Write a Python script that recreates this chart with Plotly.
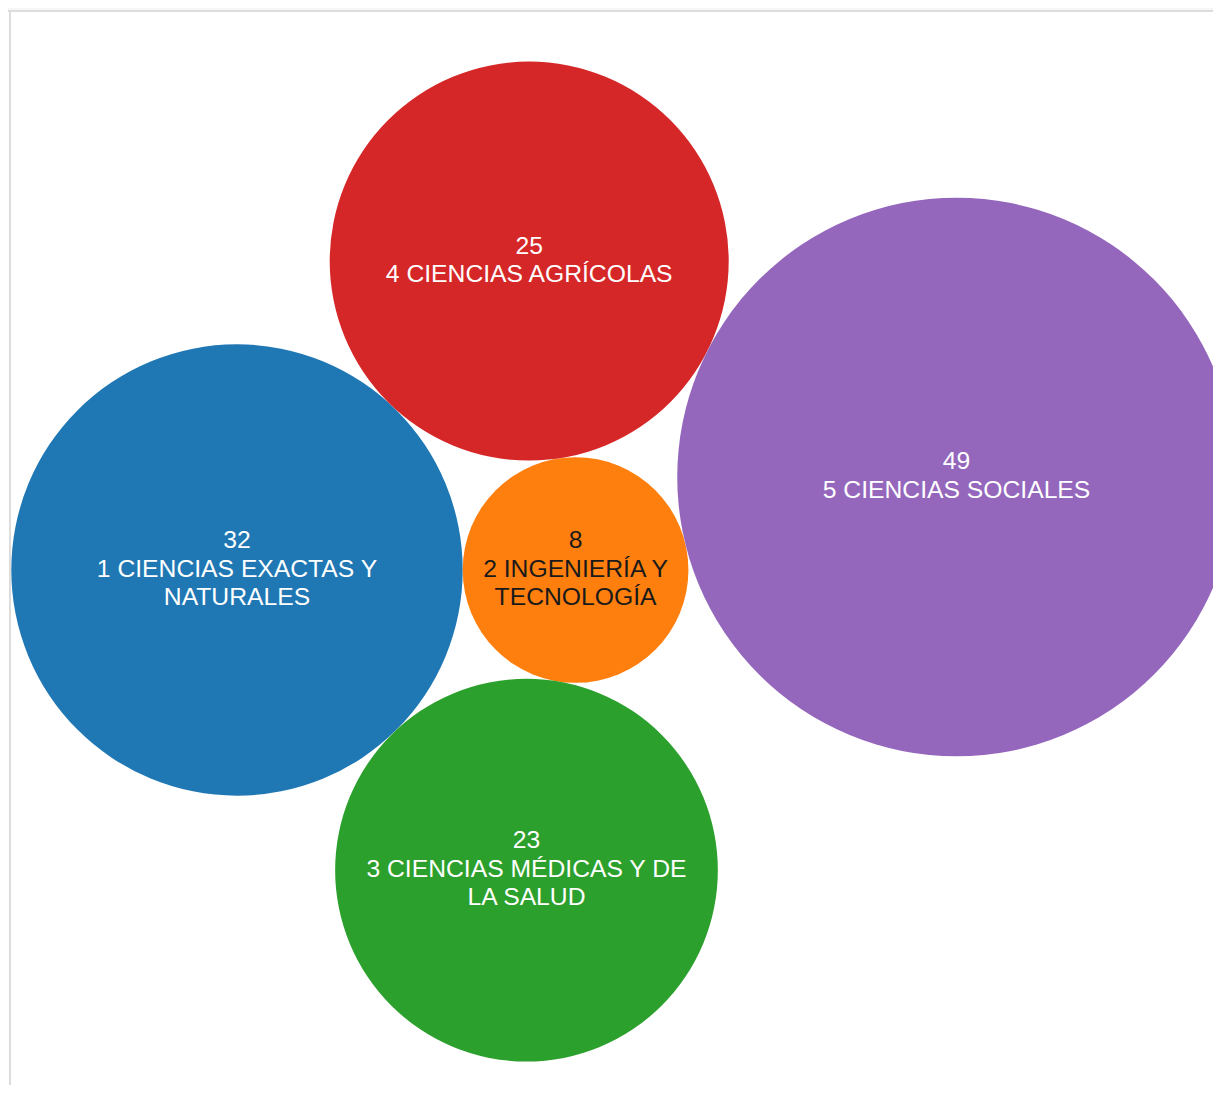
import math
import plotly.graph_objects as go

# ---- data ----
codes = ["1", "2", "3", "4", "5"]
names = ["CIENCIAS EXACTAS Y<br>NATURALES", "INGENIERÍA Y<br>TECNOLOGÍA",
         "CIENCIAS MÉDICAS Y DE<br>LA SALUD", "CIENCIAS AGRÍCOLAS", "CIENCIAS SOCIALES"]
values = [32, 8, 23, 25, 49]
colors = ["#1f77b4", "#ff7f0e", "#2ca02c", "#d62728", "#9467bd"]
text_colors = ["#ffffff", "#1a1a1a", "#ffffff", "#ffffff", "#ffffff"]

# ---- packing: bubble area proportional to value, circles placed tangent ----
# first two bubbles side by side; each further bubble touches two placed ones
# (new index, touching i, touching j, side of the line i->j)
packing = [(2, 0, 1, +1), (3, 0, 1, -1), (4, 3, 1, -1)]

rr = [math.sqrt(v) for v in values]
cx = [0.0] * len(values)
cy = [0.0] * len(values)
cx[1] = rr[0] + rr[1]


def tangent(i, j, r, side):
    dx, dy = cx[j] - cx[i], cy[j] - cy[i]
    d = math.hypot(dx, dy)
    a, b = rr[i] + r, rr[j] + r
    along = (a * a - b * b + d * d) / (2 * d)
    h = math.sqrt(max(0.0, a * a - along * along))
    ux, uy = dx / d, dy / d
    px, py = -uy, ux
    return cx[i] + along * ux + side * h * px, cy[i] + along * uy + side * h * py


for n, i, j, s in packing:
    cx[n], cy[n] = tangent(i, j, rr[n], s)

# ---- view ----
W, H = 1213, 1077          # page body adds an 8px margin
k = 39.9                   # pixels per sqrt(value) unit
px0, py0 = 229, 562        # pixel position of the first bubble's centre
xr = [cx[0] - px0 / k, cx[0] + (W - px0) / k]
yr = [cy[0] + (H - py0) / k, cy[0] - py0 / k]   # y grows downward

shapes = []
for x, y, r, col in zip(cx, cy, rr, colors):
    shapes.append(dict(type="circle", xref="x", yref="y", x0=x - r, x1=x + r,
                       y0=y - r, y1=y + r, fillcolor=col, line=dict(width=0),
                       layer="below"))

# page frame decoration
shapes += [
    dict(type="rect", xref="paper", yref="paper", x0=0, x1=1, y0=1, y1=1 - 2 / H,
         fillcolor="#f6f6f6", line=dict(width=0), layer="above"),
    dict(type="line", xref="paper", yref="paper", x0=0, x1=1, y0=1 - 3 / H, y1=1 - 3 / H,
         line=dict(color="#dcdcdc", width=2), layer="above"),
    dict(type="line", xref="paper", yref="paper", x0=2 / W, x1=2 / W, y0=0, y1=1 - 3 / H,
         line=dict(color="#dcdcdc", width=2), layer="above"),
]

# text: one row per line, fixed line height
LH = 28.5 / k
shift = 0.5 / k
tx, ty, tt, tc = [], [], [], []
for i, (v, c, n) in enumerate(zip(values, codes, names)):
    lines = [str(v)] + f"{c} {n}".split("<br>")
    m = len(lines)
    for li, line in enumerate(lines):
        tx.append(cx[i])
        ty.append(cy[i] + shift + (li - (m - 1) / 2) * LH)
        tt.append(line)
        tc.append(text_colors[i])

fig = go.Figure(go.Scatter(
    x=tx, y=ty, mode="text", text=tt, textposition="middle center",
    textfont=dict(family="Liberation Sans, Arial, sans-serif", size=24.7, color=tc),
    hoverinfo="skip", cliponaxis=False,
))

fig.update_layout(
    width=W, height=H, margin=dict(l=0, r=0, t=0, b=0),
    paper_bgcolor="white", plot_bgcolor="white", showlegend=False,
    shapes=shapes,
    xaxis=dict(range=xr, visible=False, showgrid=False, zeroline=False, fixedrange=True),
    yaxis=dict(range=yr, visible=False, showgrid=False, zeroline=False, fixedrange=True),
)

fig.write_html("out.html")
